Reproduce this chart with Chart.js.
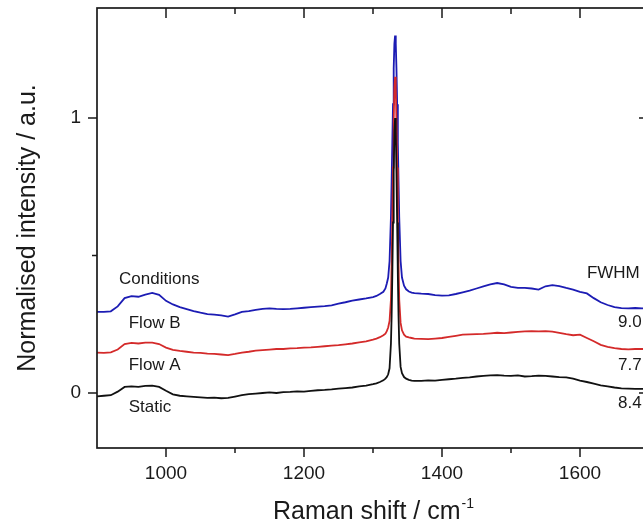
<!DOCTYPE html>
<html lang="en">
<head>
    <meta charset="UTF-8">
    <title>Raman spectra</title>
    <style>
        html, body { margin: 0; padding: 0; background: #fff; overflow: hidden; }
        #wrap { width: 660px; height: 527px; }
    </style>
</head>
<body>

    <div id="wrap">
        <canvas id="myChart"></canvas>
    </div>

    <script src="https://cdn.jsdelivr.net/npm/chart.js"></script>

    <script>
        // Raman shift (cm-1), sampled more densely around the diamond band
        const shift = [
            900, 910, 920, 930, 940, 950, 960, 970, 980, 990,
            1000, 1010, 1020, 1030, 1040, 1050, 1060, 1070, 1080, 1090,
            1100, 1110, 1120, 1130, 1140, 1150, 1160, 1170, 1180, 1190,
            1200, 1210, 1220, 1230, 1240, 1250, 1260, 1270, 1280, 1290,
            1300, 1305, 1310, 1315, 1318, 1320, 1322, 1324, 1326,
            1327, 1328, 1329, 1330, 1331, 1332, 1333, 1334, 1335, 1336, 1337, 1338,
            1340, 1342, 1345, 1348, 1352, 1356, 1360,
            1370, 1380, 1390, 1400, 1410, 1420, 1430, 1440, 1450, 1460,
            1470, 1480, 1490, 1500, 1510, 1520, 1530, 1540, 1550, 1560,
            1570, 1580, 1590, 1600, 1610, 1620, 1630, 1640, 1650, 1660,
            1670, 1680, 1690, 1700
        ];

        // normalised intensities, already offset per condition
        const staticI = [
            -0.012, -0.010, -0.008, 0.005, 0.022, 0.024, 0.022, 0.026, 0.027, 0.022,
            0.008, -0.005, -0.010, -0.012, -0.014, -0.016, -0.018, -0.017, -0.019, -0.018,
            -0.013, -0.008, -0.004, -0.002, 0.000, 0.002, 0.000, 0.003, 0.004, 0.006,
            0.005, 0.008, 0.010, 0.011, 0.013, 0.016, 0.018, 0.020, 0.024, 0.027,
            0.032, 0.035, 0.040, 0.046, 0.052, 0.058, 0.068, 0.090, 0.180,
            0.280, 0.430, 0.620, 0.800, 0.950, 1.000, 0.950, 0.800, 0.620, 0.430, 0.280, 0.180,
            0.095, 0.072, 0.058, 0.052, 0.048, 0.045, 0.044,
            0.044, 0.046, 0.045, 0.048, 0.050, 0.052, 0.055, 0.057, 0.060, 0.062,
            0.064, 0.065, 0.063, 0.062, 0.064, 0.060, 0.061, 0.063, 0.062, 0.060,
            0.058, 0.057, 0.052, 0.045, 0.040, 0.034, 0.028, 0.024, 0.020, 0.017,
            0.016, 0.015, 0.015, 0.014
        ];

        const flowA = [
            0.147, 0.146, 0.148, 0.158, 0.178, 0.182, 0.180, 0.183, 0.183, 0.178,
            0.165, 0.157, 0.153, 0.150, 0.147, 0.146, 0.143, 0.142, 0.140, 0.138,
            0.142, 0.147, 0.150, 0.154, 0.156, 0.158, 0.160, 0.160, 0.162, 0.163,
            0.165, 0.166, 0.168, 0.170, 0.172, 0.174, 0.177, 0.180, 0.184, 0.188,
            0.194, 0.198, 0.203, 0.210, 0.216, 0.225, 0.238, 0.262, 0.340,
            0.470, 0.640, 0.820, 0.990, 1.110, 1.150, 1.110, 0.990, 0.820, 0.640, 0.470, 0.340,
            0.255, 0.228, 0.212, 0.205, 0.202, 0.200, 0.198,
            0.197, 0.196, 0.198, 0.200, 0.204, 0.208, 0.212, 0.213, 0.214, 0.215,
            0.217, 0.219, 0.218, 0.220, 0.222, 0.224, 0.225, 0.224, 0.225, 0.223,
            0.219, 0.214, 0.210, 0.212, 0.200, 0.188, 0.175, 0.168, 0.163, 0.160,
            0.159, 0.160, 0.160, 0.161
        ];

        const flowB = [
            0.295, 0.295, 0.297, 0.315, 0.345, 0.352, 0.350, 0.358, 0.364, 0.357,
            0.335, 0.322, 0.312, 0.305, 0.298, 0.292, 0.287, 0.285, 0.282, 0.278,
            0.286, 0.295, 0.298, 0.302, 0.306, 0.308, 0.306, 0.305, 0.306, 0.308,
            0.310, 0.312, 0.314, 0.316, 0.319, 0.325, 0.330, 0.336, 0.340, 0.344,
            0.349, 0.353, 0.360, 0.368, 0.380, 0.398, 0.420, 0.480, 0.640,
            0.770, 0.910, 1.050, 1.180, 1.270, 1.300, 1.270, 1.180, 1.050, 0.910, 0.770, 0.640,
            0.480, 0.420, 0.390, 0.377, 0.369, 0.365, 0.363,
            0.361, 0.360, 0.356, 0.354, 0.355, 0.360, 0.366, 0.372, 0.380, 0.388,
            0.395, 0.400, 0.395, 0.386, 0.382, 0.382, 0.380, 0.376, 0.388, 0.392,
            0.389, 0.382, 0.376, 0.368, 0.362, 0.345, 0.330, 0.320, 0.312, 0.309,
            0.308, 0.309, 0.308, 0.309
        ];

        const xMajor = [1000, 1200, 1400, 1600];
        const xMinor = [1100, 1300, 1500];
        const yMajor = [0, 1];
        const yMinor = [0.5];

        // text placed in data units: [text, x, y]
        const conditionNotes = [
            ['Conditions', 932, 0.415],
            ['Flow B', 946, 0.255],
            ['Flow A', 946, 0.102],
            ['Static', 946, -0.051]
        ];
        const fwhmNotes = [
            ['FWHM', 1610, 0.436],
            ['9.0', 1655, 0.258],
            ['7.7', 1655, 0.102],
            ['8.4', 1655, -0.036]
        ];

        const FONT = '"Liberation Sans", Arial, sans-serif';
        const INK = '#1a1a1a';

        const toPts = ys => shift.map((x, i) => ({ x: x, y: ys[i] }));

        // box frame, ticks (out on bottom/left, in on top/right) and labels
        const frameAndText = {
            id: 'frameAndText',
            afterDraw(chart) {
                const ctx = chart.ctx;
                const a = chart.chartArea;
                const xs = chart.scales.x, ys = chart.scales.y;
                ctx.save();
                ctx.strokeStyle = INK;
                ctx.lineWidth = 1.7;
                ctx.strokeRect(a.left, a.top, a.right - a.left, a.bottom - a.top);

                ctx.lineWidth = 1.5;
                ctx.beginPath();
                const xt = (v, len) => {
                    const p = xs.getPixelForValue(v);
                    ctx.moveTo(p, a.bottom); ctx.lineTo(p, a.bottom + len);
                    ctx.moveTo(p, a.top); ctx.lineTo(p, a.top + len + 1);
                };
                const yt = (v, len) => {
                    const p = ys.getPixelForValue(v);
                    ctx.moveTo(a.left, p); ctx.lineTo(a.left - len, p);
                    ctx.moveTo(a.right, p); ctx.lineTo(a.right - len - 1, p);
                };
                xMajor.forEach(v => xt(v, 9));
                xMinor.forEach(v => xt(v, 5));
                yMajor.forEach(v => yt(v, 9));
                yMinor.forEach(v => yt(v, 5));
                ctx.stroke();

                ctx.fillStyle = INK;
                ctx.font = '17px ' + FONT;
                ctx.textAlign = 'left';
                ctx.textBaseline = 'middle';
                conditionNotes.concat(fwhmNotes).forEach(n => {
                    ctx.fillText(n[0], xs.getPixelForValue(n[1]), ys.getPixelForValue(n[2]));
                });

                // x title with superscript
                const main = 'Raman shift / cm';
                const sup = '-1';
                ctx.font = '25px ' + FONT;
                const wMain = ctx.measureText(main).width;
                ctx.font = '14px ' + FONT;
                const wSup = ctx.measureText(sup).width;
                const x0 = (a.left + a.right) / 2 - (wMain + wSup) / 2;
                ctx.textBaseline = 'alphabetic';
                ctx.font = '25px ' + FONT;
                ctx.fillText(main, x0, 519);
                ctx.font = '14px ' + FONT;
                ctx.fillText(sup, x0 + wMain + 1, 508);
                ctx.restore();
            }
        };

        const ctx = document.getElementById('myChart');

        let ramanChart = new Chart(ctx, {
            type: 'line',
            data: {
                datasets: [
                    { label: 'Static', data: toPts(staticI), borderColor: '#111111' },
                    { label: 'Flow A', data: toPts(flowA), borderColor: '#d42a2a' },
                    { label: 'Flow B', data: toPts(flowB), borderColor: '#1c1cb4' }
                ]
            },
            options: {
                responsive: true,
                maintainAspectRatio: false,
                animation: false,
                layout: { padding: { top: 8, right: 11, left: 0, bottom: 0 } },
                elements: {
                    point: { radius: 0 },
                    line: { borderWidth: 1.8, tension: 0 }
                },
                plugins: {
                    legend: { display: false },
                    tooltip: { enabled: false }
                },
                scales: {
                    x: {
                        type: 'linear',
                        min: 900,
                        max: 1700,
                        afterBuildTicks: s => { s.ticks = xMajor.map(v => ({ value: v })); },
                        afterFit: s => {
                            s.height = 79;
                            s.paddingLeft = 0;
                            s.paddingRight = 0;
                        },
                        grid: { display: false, drawTicks: false },
                        border: { display: false },
                        ticks: {
                            padding: 14,
                            autoSkip: false,
                            maxRotation: 0,
                            color: INK,
                            font: { family: FONT, size: 19 },
                            callback: v => String(v)
                        }
                    },
                    y: {
                        min: -0.2,
                        max: 1.4,
                        afterBuildTicks: s => { s.ticks = yMajor.map(v => ({ value: v })); },
                        afterFit: s => {
                            s.width = 97;
                            s.paddingTop = 0;
                            s.paddingBottom = 0;
                        },
                        grid: { display: false, drawTicks: false },
                        border: { display: false },
                        ticks: {
                            padding: 16,
                            color: INK,
                            font: { family: FONT, size: 19 },
                            callback: v => String(v)
                        },
                        title: {
                            display: true,
                            text: 'Normalised intensity / a.u.',
                            color: INK,
                            font: { family: FONT, size: 25 },
                            padding: { top: 13, bottom: 0 }
                        }
                    }
                }
            },
            plugins: [frameAndText]
        });
    </script>
</body>
</html>
